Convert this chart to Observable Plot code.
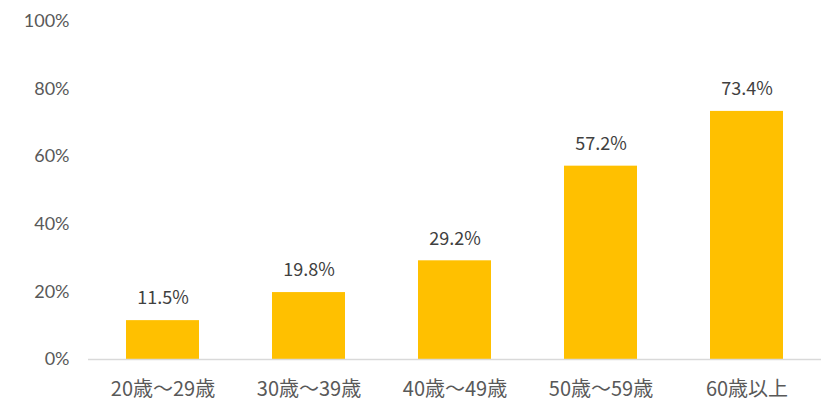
<!DOCTYPE html>
<html><head><meta charset="utf-8">
<script src="https://cdn.jsdelivr.net/npm/d3@7"></script>
<script src="https://cdn.jsdelivr.net/npm/@observablehq/plot@0.6"></script>
<style>
body{margin:0;background:#fff;}
</style>
</head><body>
<div id="chart"></div>
<script>
const categories = ["20歳～29歳","30歳～39歳","40歳～49歳","50歳～59歳","60歳以上"];
const values = [11.5, 19.8, 29.2, 57.2, 73.4];
const yTicks = [0, 20, 40, 60, 80, 100];

const data = categories.map((c, i) => ({cat: c, v: values[i]}));
const font = "'Lato','Noto Sans CJK JP',sans-serif";
const labelFont = "'Noto Sans CJK JP','Noto Sans',sans-serif";

const chart = Plot.plot({
  width: 821,
  height: 403,
  marginTop: 21,
  marginBottom: 44,
  marginLeft: 88,
  marginRight: 0,
  style: {fontFamily: font, fontSize: "18px", color: "#595959", background: "#fff"},
  x: {domain: categories, paddingInner: 0.5, paddingOuter: 0.25, label: null},
  y: {domain: [0, 100], label: null},
  marks: [
    Plot.axisY({ticks: yTicks, tickSize: 0, tickPadding: 19, tickFormat: d => d + "%", fontSize: 18, fill: "#595959"}),
    Plot.axisX({tickSize: 0, tickPadding: 22, fontSize: 20, fill: "#595959", fontFamily: labelFont}),
    Plot.barY(data, {x: "cat", y: "v", fill: "#FFC000"}),
    Plot.ruleY([0], {stroke: "#d9d9d9", strokeWidth: 1.5}),
    Plot.text(data, {x: "cat", y: "v", text: d => d.v.toFixed(1) + "%", dy: -22, fontSize: 18, fill: "#404040", fontFamily: labelFont})
  ]
});
document.getElementById("chart").appendChild(chart);
</script>
</body></html>
